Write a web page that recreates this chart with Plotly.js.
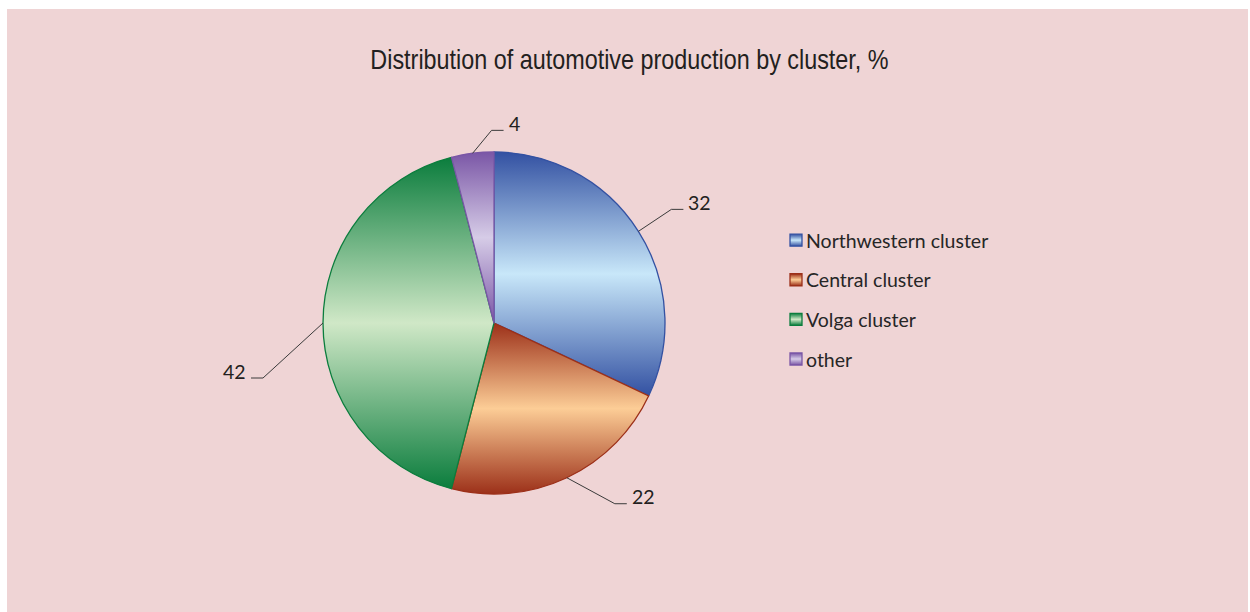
<!DOCTYPE html>
<html><head><meta charset="utf-8">
<script src="https://cdn.plot.ly/plotly-3.0.1.min.js"></script>
<style>
html,body{margin:0;padding:0;background:#ffffff;}
#chart{position:absolute;left:7px;top:9px;width:1241px;height:603px;}
</style>
</head><body><div id="chart"></div>
<script>
// ---- data ----
const clusters = ['Northwestern cluster', 'Central cluster', 'Volga cluster', 'other'];
const shares = [32, 22, 42, 4];
const shareLabels = ['32', '22', '42', '4'];
const chartTitle = 'Distribution of automotive production by cluster, %';

// ---- styling ----
const darkColors  = ['#3351a2', '#9c3019', '#0b7d3d', '#7a56a6'];
const lightColors = ['#c8e7f9', '#fccd96', '#d0e8c7', '#d6cce7'];
const bg = '#efd4d5';

// ---- geometry (page pixels) ----
const OX = 7, OY = 9, W = 1241, H = 603;
const CX = 494, CY = 323, R = 171;
const TITLE_CX = 629.5;
const LEGEND_ROW = 39.6;
const px2x = p => (p - OX) / W;
const px2y = p => 1 - (p - OY) / H;

// leader elbow offsets from slice edge, and horizontal tail direction
const elbow = [[33, -22], [48, 26], [-60, 55], [19, -23]];
const tailLen = 12;

const total = shares.reduce((a, b) => a + b, 0);
let cum = 0;
const shapes = [], annotations = [];
shares.forEach((v, i) => {
  const a = 2 * Math.PI * (cum + v / 2) / total;
  cum += v;
  const ex = CX + R * Math.sin(a), ey = CY - R * Math.cos(a);
  const bx = ex + elbow[i][0], by = ey + elbow[i][1];
  const dir = elbow[i][0] >= 0 ? 1 : -1;
  const tx = bx + dir * tailLen;
  shapes.push({
    type: 'path', xref: 'paper', yref: 'paper',
    path: `M ${px2x(ex)},${px2y(ey)} L ${px2x(bx)},${px2y(by)} L ${px2x(tx)},${px2y(by)}`,
    line: {color: '#3a3a3a', width: 1}
  });
  annotations.push({
    xref: 'paper', yref: 'paper',
    x: px2x(tx + dir * 3), y: px2y(by - 7),
    xanchor: dir > 0 ? 'left' : 'right', yanchor: 'middle',
    text: shareLabels[i], showarrow: false,
    font: {family: 'Lato, "Open Sans", sans-serif', size: 19.5, color: '#231f20'}
  });
});

const trace = {
  type: 'pie',
  labels: clusters,
  values: shares,
  sort: false,
  direction: 'clockwise',
  rotation: 0,
  textinfo: 'none',
  hoverinfo: 'none',
  domain: {x: [px2x(CX - R), px2x(CX + R)], y: [px2y(CY + R), px2y(CY - R)]},
  marker: {colors: lightColors, line: {color: darkColors, width: 1.3}}
};

const layout = {
  width: W, height: H,
  paper_bgcolor: bg, plot_bgcolor: bg,
  margin: {l: 0, r: 0, t: 0, b: 0},
  title: {
    text: chartTitle,
    x: px2x(TITLE_CX), xanchor: 'center', xref: 'paper',
    y: px2y(59), yanchor: 'middle', yref: 'container',
    font: {family: '"Liberation Sans", Arial, sans-serif', size: 28, color: '#231f20'}
  },
  showlegend: true,
  legend: {
    x: px2x(776), y: px2y(221), xanchor: 'left', yanchor: 'top',
    bgcolor: 'rgba(0,0,0,0)', borderwidth: 0,
    font: {family: 'Lato, "Open Sans", sans-serif', size: 19.5, color: '#262626'},
    traceorder: 'normal'
  },
  shapes: shapes,
  annotations: annotations
};

function decorate() {
  const gd = document.getElementById('chart');
  const svg = gd.querySelector('svg.main-svg');
  if (!svg) return;
  let defs = svg.querySelector('defs');
  if (!defs) { defs = document.createElementNS('http://www.w3.org/2000/svg', 'defs'); svg.insertBefore(defs, svg.firstChild); }
  darkColors.forEach((d, i) => {
    const id = 'sliceGrad' + i;
    if (document.getElementById(id)) return;
    const g = document.createElementNS('http://www.w3.org/2000/svg', 'linearGradient');
    g.setAttribute('id', id);
    g.setAttribute('x1', '0'); g.setAttribute('y1', '0');
    g.setAttribute('x2', '0'); g.setAttribute('y2', '1');
    [[0, d], [0.5, lightColors[i]], [1, d]].forEach(([o, c]) => {
      const s = document.createElementNS('http://www.w3.org/2000/svg', 'stop');
      s.setAttribute('offset', o); s.setAttribute('stop-color', c);
      g.appendChild(s);
    });
    defs.appendChild(g);
  });
  gd.querySelectorAll('g.slice').forEach((s, k) => {
    const d = s.__data__;
    const i = (d && typeof d.i === 'number') ? d.i : k;
    const p = s.querySelector('path.surface');
    if (p) p.style.fill = `url(#sliceGrad${i})`;
  });
  // legend: unclip, spread rows, tighten text gap
  gd.querySelectorAll('g.legend g.scrollbox, g.legend').forEach(el => el.removeAttribute('clip-path'));
  const items = gd.querySelectorAll('g.legend g.traces');
  let y0 = null;
  items.forEach((it, k) => {
    const d = it.__data__;
    const i = (d && d[0] && typeof d[0].i === 'number') ? d[0].i : k;
    const sym = it.querySelector('path.legendpie');
    if (sym) sym.style.fill = `url(#sliceGrad${i})`;
    const txt = it.querySelector('text.legendtext');
    if (txt) txt.setAttribute('x', 30);
    const m = /translate\(\s*([-\d.]+)[ ,]+([-\d.]+)\s*\)/.exec(it.getAttribute('transform') || '');
    if (m) {
      if (y0 === null) y0 = parseFloat(m[2]);
      it.setAttribute('transform', `translate(${m[1]},${y0 + LEGEND_ROW * k})`);
    }
  });
  // title: narrow (condensed) look by horizontal squeeze around its centre
  const t = gd.querySelector('text.gtitle');
  if (t) {
    const cx = TITLE_CX - OX;
    t.setAttribute('transform', `translate(${cx},0) scale(0.835,1) translate(${-cx},0)`);
  }
}

const gd = document.getElementById('chart');
Plotly.newPlot(gd, [trace], layout, {displayModeBar: false, staticPlot: true}).then(() => {
  decorate();
  gd.on('plotly_afterplot', decorate);
});
</script>
</body></html>
